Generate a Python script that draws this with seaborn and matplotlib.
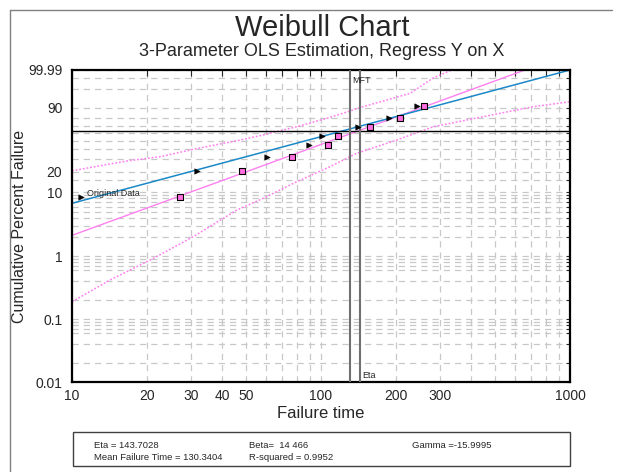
import numpy as np
import pandas as pd
import matplotlib
matplotlib.use("Agg")
import matplotlib.pyplot as plt
from matplotlib.lines import Line2D
from matplotlib.patches import Rectangle
from matplotlib.ticker import NullFormatter
import seaborn as sns

# values
rank_pct = [8.3, 20.2, 32.1, 44.0, 56.0, 67.9, 79.8, 91.7]
original_time = [10.9, 31.7, 60.8, 89.8, 100.6, 140.4, 188.1, 242.3]
shifted_time = [27.1, 48.3, 76.3, 106.4, 117.3, 157.3, 207.7, 259.2]

fit_orig_time = [10, 1000]
fit_orig_pct = [6.73, 99.99]
fit_shift_time = [10, 659]
fit_shift_pct = [2.13, 99.99]

upper_time = [10, 16.6, 22.6, 30.7, 47.3, 58.5, 79.9, 108.7, 147.5, 227.8, 281.8, 334.8]
upper_pct = [20.5, 28.0, 31.9, 39.6, 50.7, 57.3, 68.4, 80.3, 90.9, 98.0, 99.895, 99.99]
lower_time = [10, 14.2, 20.6, 30.7, 45.9, 58.6, 79.9, 108.7, 139.1, 201.4, 282.5,
              384.7, 523.4, 710.1, 1000]
lower_pct = [0.189, 0.418, 0.869, 2.03, 5.30, 8.03, 14.25, 23.4, 35.3, 50.7, 68.4,
             77.1, 84.8, 90.9, 94.4]

eta = 143.7028
mft = 130.3404
char_pct = 63.2

x_major = [10, 20, 30, 40, 50, 100, 200, 300, 1000]
x_minor = [60, 70, 80, 90, 400, 500, 600, 700, 800, 900]
y_major = [0.01, 0.1, 1, 10, 20, 90, 99.99]
y_major_labels = ["0.01", "0.1", "1", "10", "20", "90", "99.99"]
y_minor = [0.02, 0.04, 0.06, 0.07, 0.08, 0.09,
           0.2, 0.4, 0.6, 0.7, 0.8, 0.9,
           2, 3, 4, 5, 6, 7, 8, 9,
           15, 30, 40, 50, 60, 70, 80, 99, 99.9]

info_row1 = ["Eta = 143.7028", "Beta=  14 466", "Gamma =-15.9995"]
info_row2 = ["Mean Failure Time = 130.3404", "R-squared = 0.9952"]


def weibull_fwd(p):
    p = np.clip(np.asarray(p, dtype=float), 1e-7, 100 - 1e-7)
    return np.log(-np.log(1 - p / 100.0))


def weibull_inv(z):
    return 100.0 * (1 - np.exp(-np.exp(np.asarray(z, dtype=float))))


sns.set_style("white")
plt.rcParams["font.family"] = ["Liberation Sans", "DejaVu Sans"]

fig = plt.figure(figsize=(6.19, 4.72), dpi=100)
ax = fig.add_axes([72 / 619, 1 - 382 / 472, 498 / 619, 312 / 472])

ax.set_xscale("log")
ax.set_yscale("function", functions=(weibull_fwd, weibull_inv))

pink = "#ff80f0"
blue = "#1a88c8"

# confidence bands
sns.lineplot(x=upper_time, y=upper_pct, ax=ax, color=pink, lw=1.1,
             linestyle=(0, (1.2, 1.2)), estimator=None, sort=False)
sns.lineplot(x=lower_time, y=lower_pct, ax=ax, color=pink, lw=1.1,
             linestyle=(0, (1.2, 1.2)), estimator=None, sort=False)
# fitted lines
sns.lineplot(x=fit_shift_time, y=fit_shift_pct, ax=ax, color=pink, lw=1,
             estimator=None, sort=False)
sns.lineplot(x=fit_orig_time, y=fit_orig_pct, ax=ax, color=blue, lw=1.1,
             estimator=None, sort=False)

# reference lines
ax.axhline(char_pct, color="black", lw=1, zorder=3)
ax.axvline(mft, color="#707070", lw=1.5, zorder=3)
ax.axvline(eta, color="#707070", lw=1.5, zorder=3)

# data points
sns.scatterplot(x=original_time, y=rank_pct, ax=ax, marker=">", color="black",
                edgecolor="black", s=16, zorder=5)
sns.scatterplot(x=shifted_time, y=rank_pct, ax=ax, marker="s", color="#ff6ee0",
                edgecolor="black", linewidth=0.8, s=14, zorder=5)

ax.text(11.5, 9.4, "Original Data", fontsize=6.5, va="center", ha="left")
ax.text(mft * 1.02, 99.83, "MFT", fontsize=6.5, va="center", ha="left")
ax.text(eta * 1.015, 0.0125, "Eta", fontsize=6.5, va="center", ha="left")

ax.set_xlim(10, 1000)
ax.set_ylim(0.01, 99.99)

ax.set_xticks(x_major)
ax.set_xticklabels([str(v) for v in x_major])
ax.set_xticks(x_minor, minor=True)
ax.xaxis.set_minor_formatter(NullFormatter())
ax.set_yticks(y_major)
ax.set_yticklabels(y_major_labels)
ax.set_yticks(y_minor, minor=True)
ax.yaxis.set_minor_formatter(NullFormatter())

ax.tick_params(axis="x", which="both", direction="in", top=True, length=4,
               width=0.8, labelsize=10, pad=5)
ax.tick_params(axis="y", which="both", direction="in", right=True, length=3,
               width=0.8, labelsize=10, pad=7)

ax.grid(True, which="both", color="#c8c8c8", lw=0.9, linestyle=(0, (5, 4)))
ax.set_axisbelow(True)

for s in ax.spines.values():
    s.set_color("black")
    s.set_linewidth(1.6)

ax.set_xlabel("Failure time", fontsize=12, labelpad=2)
ax.set_ylabel("Cumulative Percent Failure", fontsize=11.5, labelpad=1)

fig.text(0.52, 1 - 28 / 472, "Weibull Chart", fontsize=21, ha="center", va="center")
fig.text(0.52, 1 - 52 / 472, "3-Parameter OLS Estimation, Regress Y on X",
         fontsize=13, ha="center", va="center")

# outer frame
fig.add_artist(Line2D([9.5 / 619, 9.5 / 619], [0, 1 - 9.5 / 472],
                      transform=fig.transFigure, color="#808080", lw=1))
fig.add_artist(Line2D([9.5 / 619, 612 / 619], [1 - 9.5 / 472, 1 - 9.5 / 472],
                      transform=fig.transFigure, color="#808080", lw=1))

# info box
fig.add_artist(Rectangle((73 / 619, 1 - 466 / 472), 497 / 619, 34 / 472,
                         transform=fig.transFigure, fill=False,
                         edgecolor="#404040", lw=1))
cols = [94 / 619, 249 / 619, 412 / 619]
for x, t in zip(cols, info_row1):
    fig.text(x, 1 - 445 / 472, t, fontsize=6.8, va="center", ha="left")
for x, t in zip(cols, info_row2):
    fig.text(x, 1 - 458 / 472, t, fontsize=6.8, va="center", ha="left")

fig.savefig("out.png", dpi=100)
